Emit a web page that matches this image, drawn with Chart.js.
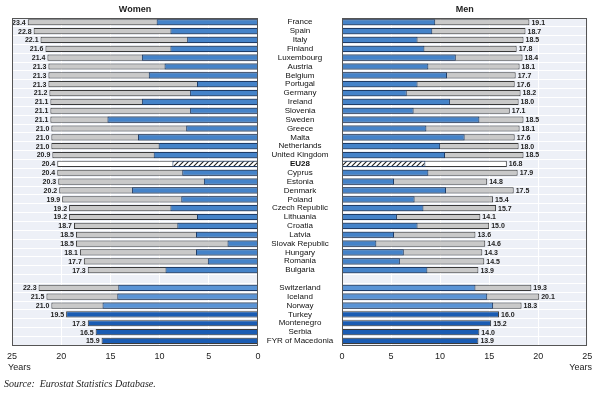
<!DOCTYPE html>
<html><head><meta charset="utf-8">
<script src="https://cdn.jsdelivr.net/npm/chart.js@4"></script>
<style>
html,body{margin:0;padding:0;background:#fff;width:600px;height:396px;overflow:hidden;}
#wrap{position:relative;width:600px;height:396px;}
canvas{position:absolute;top:0;}
#cw{left:0;} #cm{left:258px;}
.t{position:absolute;font:9px "Liberation Sans Narrow","Arial Narrow","Liberation Sans",sans-serif;color:#222;white-space:nowrap;}
#src{position:absolute;left:4px;top:378px;font:italic 10px "Liberation Serif",serif;color:#222;white-space:nowrap;}
</style></head><body>
<div id="wrap">
<canvas id="cw" width="270" height="396"></canvas>
<canvas id="cm" width="342" height="396"></canvas>
<div class="t" style="left:8px;top:362px;">Years</div>
<div class="t" style="right:8px;top:362px;">Years</div>
<div id="src">Source:&nbsp; Eurostat Statistics Database.</div>
</div>
<script>
const categories = ['France','Spain','Italy','Finland','Luxembourg','Austria','Belgium','Portugal','Germany','Ireland','Slovenia','Sweden','Greece','Malta','Netherlands','United Kingdom','EU28','Cyprus','Estonia','Denmark','Poland','Czech Republic','Lithuania','Croatia','Latvia','Slovak Republic','Hungary','Romania','Bulgaria','','Switzerland','Iceland','Norway','Turkey','Montenegro','Serbia','FYR of Macedonia'];
const womenLE  = [23.4,22.8,22.1,21.6,21.4,21.3,21.3,21.3,21.2,21.1,21.1,21.1,21.0,21.0,21.0,20.9,20.4,20.4,20.3,20.2,19.9,19.2,19.2,18.7,18.5,18.5,18.1,17.7,17.3,null,22.3,21.5,21.0,19.5,17.3,16.5,15.9];
const womenHLY = [10.3,8.9,7.2,8.9,11.8,9.5,11.1,6.2,6.9,11.8,6.9,15.3,7.3,12.2,10.1,10.6,8.7,7.7,5.5,12.8,7.8,8.9,6.2,8.2,6.3,3.1,6.3,5.1,9.4,null,14.2,14.3,15.8,null,null,null,null];
const menLE    = [19.1,18.7,18.5,17.8,18.4,18.1,17.7,17.6,18.2,18.0,17.1,18.5,18.1,17.6,18.0,18.5,16.8,17.9,14.8,17.5,15.4,15.7,14.1,15.0,13.6,14.6,14.3,14.5,13.9,null,19.3,20.1,18.3,16.0,15.2,14.0,13.9];
const menHLY   = [9.5,9.2,7.7,8.4,11.6,8.8,10.7,7.7,6.6,11.0,7.3,14.0,8.6,12.5,10.0,10.5,8.5,8.8,5.3,10.6,7.4,8.3,5.6,7.7,5.3,3.5,6.3,5.9,8.7,null,13.6,14.8,15.4,null,null,null,null];

const FF = '"Liberation Sans Narrow","Arial Narrow","Liberation Sans",sans-serif';
const eu = categories.indexOf('EU28');
const gapIdx = categories.indexOf('');

function hatch(){
  const c=document.createElement('canvas'); c.width=5; c.height=5;
  const g=c.getContext('2d');
  g.fillStyle='#fff'; g.fillRect(0,0,5,5);
  g.strokeStyle='#222'; g.lineWidth=1.1; g.beginPath();
  g.moveTo(0,5); g.lineTo(5,0);
  g.moveTo(-1,1); g.lineTo(1,-1);
  g.moveTo(4,6); g.lineTo(6,4);
  g.stroke();
  return g.createPattern(c,'repeat');
}
const hatchPattern = hatch();

// measure widest category label for centring
const mctx = document.createElement('canvas').getContext('2d');
let widest = 0;
categories.forEach(c=>{ mctx.font = (c==='EU28'?'bold ':'normal ')+'8px '+FF; widest=Math.max(widest, mctx.measureText(c).width); });
const yPad = Math.max(0, 42 - widest/2);

const bgPlugin = {id:'bg', beforeDraw(chart){ const a=chart.chartArea, c=chart.ctx; c.save(); c.fillStyle='#edf0f7'; c.fillRect(a.left,a.top,a.right-a.left,a.bottom-a.top); c.restore(); }};
const framePlugin = {id:'frame', afterDraw(chart){ const a=chart.chartArea, c=chart.ctx; c.save(); c.strokeStyle='#555'; c.lineWidth=1; c.strokeRect(Math.round(a.left)+0.5, Math.round(a.top)+0.5, Math.round(a.right-a.left)-1, Math.round(a.bottom-a.top)-1); c.restore(); }};
const valuePlugin = {id:'valueLabels', afterDatasetsDraw(chart, args, opts){
  const c=chart.ctx, meta=chart.getDatasetMeta(1), data=chart.data.datasets[1].data;
  c.save(); c.font='bold 7px '+FF; c.fillStyle='#222'; c.textBaseline='middle'; c.textAlign=opts.left?'right':'left';
  meta.data.forEach((el,i)=>{ if(data[i]==null) return; c.fillText(data[i].toFixed(1), el.x+(opts.left?-2:2), el.y+0.5); });
  c.restore();
}};

function makeChart(id, isW){
  const LE = isW?womenLE:menLE, HLY = isW?womenHLY:menHLY;
  return new Chart(document.getElementById(id), {
    type:'bar',
    data:{labels:categories, datasets:[
      {label:'Healthy life years', data:HLY, grouped:false, barPercentage:0.7, categoryPercentage:1, order:0,
       backgroundColor: ctx=> ctx.dataIndex===eu ? hatchPattern : (ctx.dataIndex>gapIdx ? '#5a94d6' : '#4583c9'),
       borderColor:'#1f3c66', borderWidth:1},
      {label:'Life expectancy', data:LE, grouped:false, barPercentage:0.7, categoryPercentage:1, order:1,
       backgroundColor: ctx=> ctx.dataIndex===eu ? '#ffffff' : (HLY[ctx.dataIndex]==null ? '#1a5cb3' : '#c9c9c9'),
       borderColor:'#3a3a3a', borderWidth:1}
    ]},
    options:{
      responsive:false, animation:false, devicePixelRatio:1, indexAxis:'y',
      layout:{padding: isW?{left:12,right:12,top:0,bottom:24.6}:{left:0,right:12.7,top:0,bottom:24.6}},
      plugins:{
        legend:{display:false}, tooltip:{enabled:false},
        title:{display:true, text:isW?'Women':'Men', fullSize:false, color:'#222', font:{family:FF,size:9,weight:'bold'}, padding:{top:4,bottom:3}},
        valueLabels:{left:isW}
      },
      scales:{
        x:{type:'linear', min:0, max:25, reverse:isW, position:'bottom',
           ticks:{stepSize:5, padding:6, color:'#222', font:{family:FF,size:9}},
           grid:{color: c=> (c.tick && c.tick.value>0 && c.tick.value<25) ? '#ffffff' : 'rgba(0,0,0,0)', drawTicks:false},
           border:{display:false},
           afterFit: s=>{ s.height=26; }},
        y:{position: isW?'right':'left',
           grid:{color:'#ffffff', drawTicks:false},
           border:{display:false},
           ticks: isW ? {display:false} : {display:true, autoSkip:false, crossAlign:'center', padding:yPad, color:'#111',
                    font: c=>({family:FF, size:8, weight: categories[c.index]==='EU28'?'bold':'normal'})},
           afterFit: s=>{ s.width = isW?0:84; }}
      }
    },
    plugins:[bgPlugin, valuePlugin, framePlugin]
  });
}
makeChart('cw', true);
makeChart('cm', false);
</script>
</body></html>
